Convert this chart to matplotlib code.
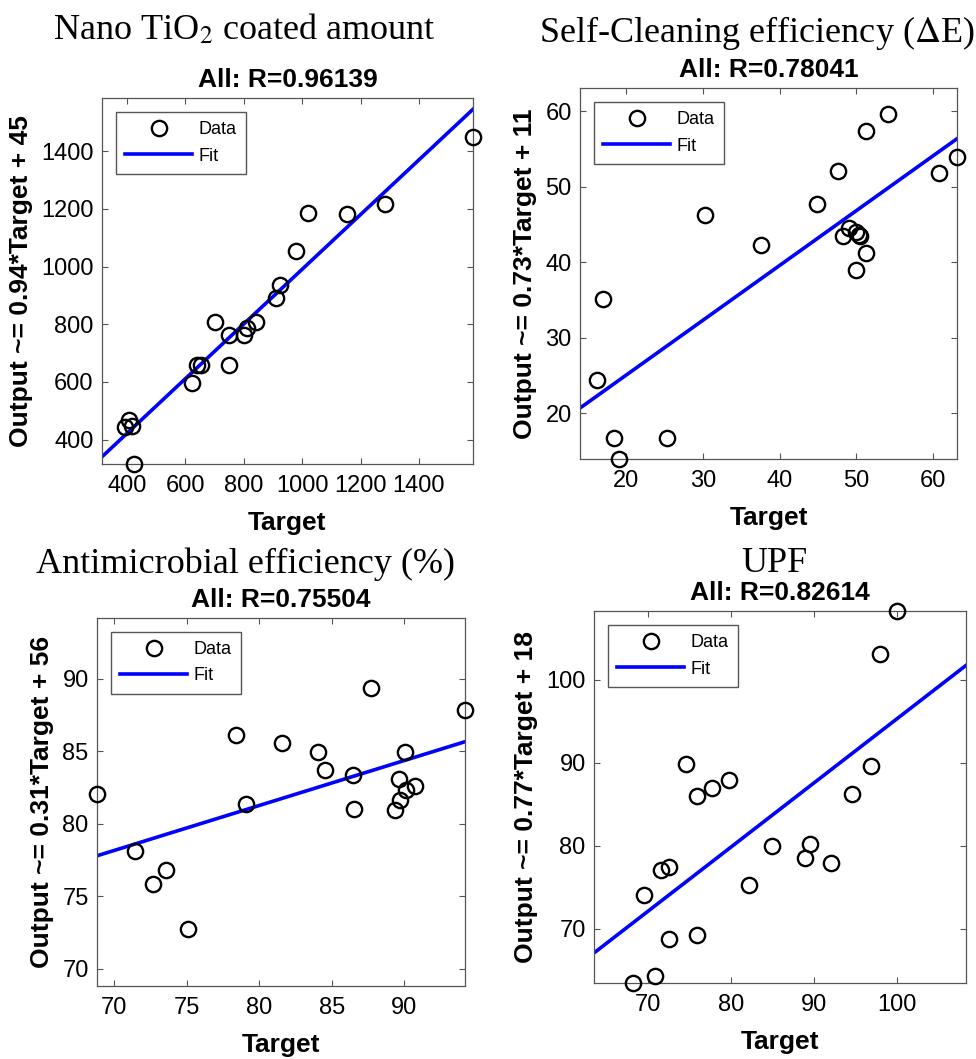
import matplotlib
matplotlib.use("Agg")
import matplotlib.pyplot as plt
import numpy as np

plt.rcParams["font.family"] = ["Liberation Sans", "DejaVu Sans"]
plt.rcParams["mathtext.fontset"] = "stix"

# ---- data ----
tio2_target = [1585, 1285, 1154, 1021, 978, 924, 911, 841, 813, 801,
               749, 703, 751, 654, 639, 623, 409, 393, 418, 426]
tio2_output = [1450, 1216, 1184, 1186, 1053, 935, 890, 807, 788, 763,
               763, 806, 657, 658, 658, 596, 469, 444, 446, 315]

sc_target = [54.1, 51.2, 47.6, 60.7, 63.1, 44.8, 30.3, 37.5, 48.3, 49.0,
             50.0, 50.3, 50.5, 51.2, 50.0, 17.0, 16.2, 18.4, 19.1, 25.3]
sc_output = [59.6, 57.35, 52.06, 51.84, 54.0, 47.7, 46.3, 42.3, 43.5, 44.5,
             44.0, 43.6, 43.5, 41.26, 39.05, 35.2, 24.45, 16.7, 13.96, 16.7]

am_target = [68.8, 71.43, 72.64, 73.56, 75.06, 78.37, 79.1, 81.6, 84.07, 84.57,
             86.48, 86.53, 87.7, 94.2, 90.07, 89.66, 90.11, 90.74, 89.7, 89.38]
am_output = [82.05, 78.14, 75.82, 76.83, 72.76, 86.09, 81.38, 85.54, 84.92, 83.68,
             83.38, 81.03, 89.38, 87.82, 84.92, 83.06, 82.34, 82.57, 81.63, 80.92]

upf_target = [99.96, 97.95, 96.83, 94.59, 89.54, 88.9, 92.07, 84.94, 82.1, 74.57,
              75.89, 77.69, 79.69, 72.56, 71.6, 69.52, 72.52, 75.89, 70.84, 68.2]
upf_output = [108.27, 103.09, 89.57, 86.25, 80.19, 78.54, 77.9, 80.03, 75.3, 89.86,
              86.0, 86.93, 87.89, 77.46, 77.1, 74.09, 68.84, 69.24, 64.3, 63.5]

fit_slope = [0.9496, 0.726, 0.31, 0.773]
fit_intercept = [40.9, 10.57, 56.46, 18.03]

big_titles = [r"Nano TiO$_2$ coated amount", r"Self-Cleaning efficiency ($\Delta$E)",
              "Antimicrobial efficiency (%)", "UPF"]
r_titles = ["All: R=0.96139", "All: R=0.78041", "All: R=0.75504", "All: R=0.82614"]
y_labels = ["Output ~= 0.94*Target + 45", "Output ~= 0.73*Target + 11",
            "Output ~= 0.31*Target + 56", "Output ~= 0.77*Target + 18"]
tick_sets = [[400, 600, 800, 1000, 1200, 1400], [20, 30, 40, 50, 60],
             [70, 75, 80, 85, 90], [70, 80, 90, 100]]

targets = [tio2_target, sc_target, am_target, upf_target]
outputs = [tio2_output, sc_output, am_output, upf_output]

# layout in pixels: left, top, right, bottom
W, H = 976, 1059
boxes = [(102, 98, 473, 464), (580, 88, 957, 459),
         (97, 618, 465, 986), (594, 611, 966, 983)]
title_pos = [(244, 39), (757, 42), (246, 573), (774, 572)]

fig = plt.figure(figsize=(W / 100, H / 100), dpi=100)

for i in range(4):
    l, t, r, b = boxes[i]
    ax = fig.add_axes([l / W, 1 - b / H, (r - l) / W, (b - t) / H])
    tg = np.asarray(targets[i], dtype=float)
    op = np.asarray(outputs[i], dtype=float)
    lo = min(tg.min(), op.min())
    hi = max(tg.max(), op.max())

    xs = np.array([lo, hi])
    ax.plot(tg, op, "o", ms=11, mfc="none", mec="black", mew=1.7,
            label="Data", clip_on=False, zorder=3)
    ax.plot(xs, fit_slope[i] * xs + fit_intercept[i], color="#0000ff",
            lw=2.6, label="Fit", zorder=2)
    ax.set_xlim(lo, hi)
    ax.set_ylim(lo, hi)
    ax.set_xticks(tick_sets[i])
    ax.set_yticks(tick_sets[i])

    ax.tick_params(direction="in", top=True, right=True, length=4,
                   width=0.8, color="#555555", labelsize=17)
    ax.tick_params(axis="x", pad=8)
    ax.tick_params(axis="y", pad=6)
    for sp in ax.spines.values():
        sp.set_color("#555555")
        sp.set_linewidth(0.9)

    ax.set_xlabel("Target", fontsize=19, fontweight="bold", labelpad=10)
    ax.set_ylabel(y_labels[i], fontsize=19, fontweight="bold", labelpad=6)
    ax.set_title(r_titles[i], fontsize=19, fontweight="bold", pad=8)

    leg = ax.legend(loc="upper left", fontsize=13, handlelength=3.7,
                    handletextpad=0.35, labelspacing=0.5, borderpad=0.5,
                    borderaxespad=0.8, fancybox=False, framealpha=1,
                    numpoints=1)
    leg.get_frame().set_edgecolor("#555555")
    leg.get_frame().set_linewidth(1.0)

    tx, ty = title_pos[i]
    fig.text(tx / W, 1 - ty / H, big_titles[i], ha="center", va="baseline",
             fontsize=26, family="Liberation Serif")

fig.savefig("out.png", dpi=100)
